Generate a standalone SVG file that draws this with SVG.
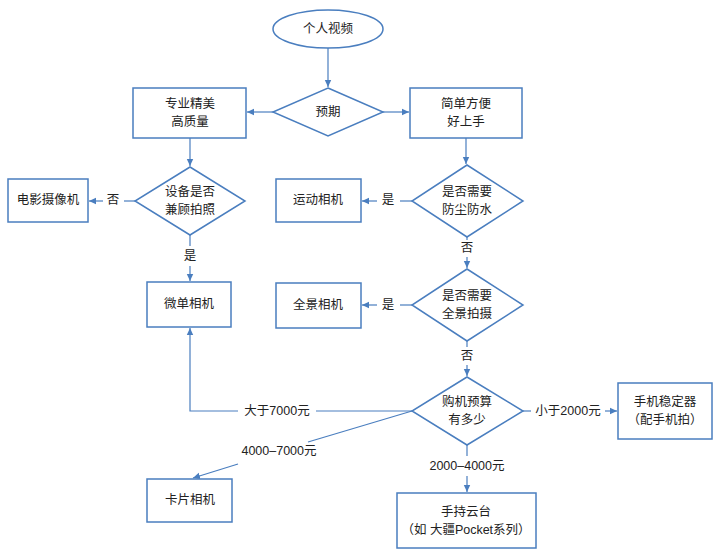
<svg xmlns="http://www.w3.org/2000/svg" width="720" height="557" viewBox="0 0 720 557">
<defs>
<marker id="ah" markerWidth="8" markerHeight="8" refX="7" refY="4" orient="auto" markerUnits="userSpaceOnUse">
<path d="M0,0.8 L7,4 L0,7.2 Z" fill="#4a7ebf"/>
</marker>
<style>
.s{fill:#fff;stroke:#4a7ebf;stroke-width:1.5}
.t{font-family:"Liberation Sans","Noto Sans CJK SC",sans-serif;font-size:12.5px;fill:#222;text-anchor:middle;dominant-baseline:central}
.c{fill:none;stroke:#4a7ebf;stroke-width:1.2}
.a{marker-end:url(#ah)}
</style>
</defs>
<rect width="720" height="557" fill="#fff"/>
<g id="connectors">
<path class="c a" d="M328,48 L328,87"/>
<path class="c a" d="M273,112 L247,112"/>
<path class="c a" d="M383,112 L409,112"/>
<path class="c a" d="M190,138 L190,166"/>
<path class="c a" d="M466,138 L466,164"/>
<path class="c" d="M135,201 L124,201"/>
<path class="c a" d="M103,201 L89,201"/>
<path class="c" d="M190,235 L190,246"/>
<path class="c a" d="M190,266 L190,281"/>
<path class="c" d="M412,201 L400,201"/>
<path class="c a" d="M377,201 L362,201"/>
<path class="c" d="M467,237 L467,240"/>
<path class="c a" d="M467,257 L467,268"/>
<path class="c" d="M412,305 L400,305"/>
<path class="c a" d="M377,305 L362,305"/>
<path class="c" d="M467,341 L467,347"/>
<path class="c a" d="M467,365 L467,376"/>
<path class="c" d="M412,411 L316,411"/>
<path class="c a" d="M238,411 L190,411 L190,328"/>
<path class="c" d="M412,411 L308,442"/>
<path class="c a" d="M238,464 L193,478"/>
<path class="c" d="M523,411 L531,411"/>
<path class="c a" d="M605,411 L617,411"/>
<path class="c" d="M467,445 L467,456"/>
<path class="c a" d="M467,476 L467,492"/>
</g>
<g id="start">
<ellipse class="s" cx="328" cy="29" rx="55" ry="19"/>
<text class="t" x="328" y="29">个人视频</text>
</g>
<g id="expect">
<path class="s" d="M328,88 L383,112 L328,136 L273,112 Z"/>
<text class="t" x="328" y="112">预期</text>
</g>
<g id="pro">
<rect class="s" x="133" y="88" width="113" height="50"/>
<text class="t" x="190" y="104">专业精美</text>
<text class="t" x="190" y="122">高质量</text>
</g>
<g id="easy">
<rect class="s" x="410" y="88" width="112" height="50"/>
<text class="t" x="466" y="104">简单方便</text>
<text class="t" x="466" y="122">好上手</text>
</g>
<g id="photo-q">
<path class="s" d="M190,167 L245,201 L190,235 L135,201 Z"/>
<text class="t" x="190" y="192">设备是否</text>
<text class="t" x="190" y="210">兼顾拍照</text>
</g>
<g id="cinema">
<rect class="s" x="8" y="179" width="80" height="43"/>
<text class="t" x="48" y="200">电影摄像机</text>
</g>
<text class="t" x="113" y="200">否</text>
<text class="t" x="190" y="256">是</text>
<g id="water-q">
<path class="s" d="M467,165 L523,201 L467,237 L412,201 Z"/>
<text class="t" x="467" y="192">是否需要</text>
<text class="t" x="467" y="210">防尘防水</text>
</g>
<g id="action">
<rect class="s" x="276" y="179" width="85" height="43"/>
<text class="t" x="318" y="200">运动相机</text>
</g>
<text class="t" x="388" y="200">是</text>
<text class="t" x="467" y="248">否</text>
<g id="pano-q">
<path class="s" d="M467,269 L523,305 L467,341 L412,305 Z"/>
<text class="t" x="467" y="296">是否需要</text>
<text class="t" x="467" y="314">全景拍摄</text>
</g>
<g id="pano">
<rect class="s" x="276" y="283" width="85" height="45"/>
<text class="t" x="318" y="305">全景相机</text>
</g>
<text class="t" x="388" y="305">是</text>
<text class="t" x="467" y="356">否</text>
<g id="mirrorless">
<rect class="s" x="147" y="282" width="84" height="45"/>
<text class="t" x="189" y="304">微单相机</text>
</g>
<g id="budget-q">
<path class="s" d="M467,377 L523,411 L467,445 L412,411 Z"/>
<text class="t" x="467" y="402">购机预算</text>
<text class="t" x="467" y="420">有多少</text>
</g>
<text class="t" x="277" y="411">大于7000元</text>
<text class="t" x="279" y="451">4000–7000元</text>
<text class="t" x="568" y="411">小于2000元</text>
<text class="t" x="467" y="466">2000–4000元</text>
<g id="compact">
<rect class="s" x="147" y="479" width="85" height="43"/>
<text class="t" x="190" y="500">卡片相机</text>
</g>
<g id="phone-gimbal">
<rect class="s" x="618" y="383" width="94" height="56"/>
<text class="t" x="665" y="402">手机稳定器</text>
<text class="t" x="665" y="420">（配手机拍）</text>
</g>
<g id="handheld-gimbal">
<rect class="s" x="397" y="493" width="139" height="55"/>
<text class="t" x="466" y="512">手持云台</text>
<text class="t" x="466" y="530">（如 大疆Pocket系列）</text>
</g>
</svg>
